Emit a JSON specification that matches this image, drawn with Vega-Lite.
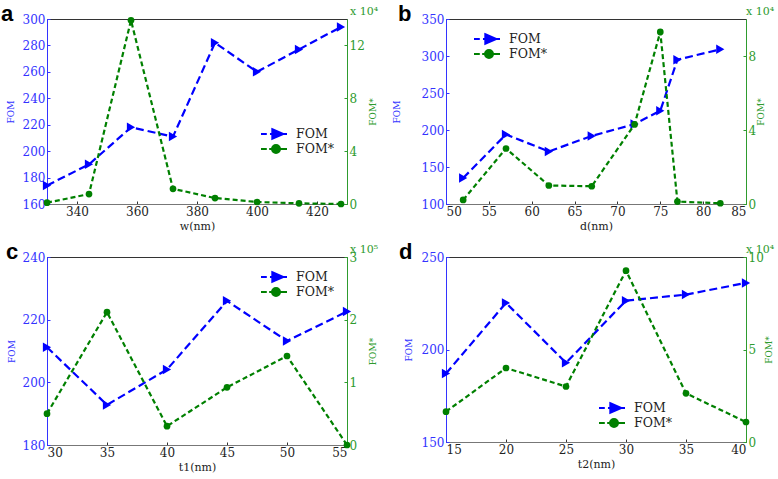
{
  "$schema": "https://vega.github.io/schema/vega-lite/v6.json",
  "padding": {"left": 0, "top": 2, "right": 0, "bottom": 0},
  "background": "white",
  "config": {
    "font": "DejaVu Serif",
    "view": {"stroke": "#333333", "strokeWidth": 1},
    "axis": {"grid": false, "labelFont": "DejaVu Serif", "titleFont": "DejaVu Serif", "labelFontSize": 12, "titleFontSize": 11, "titleFontWeight": "normal", "tickSize": -3, "labelPadding": 5, "domainColor": "#777777", "tickColor": "#333333", "labelColor": "#222222", "titleColor": "#222222"},
    "legend": {"padding": 0, "labelFont": "DejaVu Serif", "labelFontSize": 12.5, "labelColor": "#222222", "symbolSize": 676, "symbolStrokeWidth": 2, "labelOffset": 8, "rowPadding": 1, "clipHeight": 14, "symbolOpacity": 1},
    "title": {"font": "Liberation Sans", "fontSize": 22, "fontWeight": "bold", "color": "black", "anchor": "start", "frame": "group", "baseline": "alphabetic", "offset": -20}
  },
  "datasets": {
    "main": [
      {"panel": "a", "x": 330, "fom": 174, "foms": 0.1},
      {"panel": "a", "x": 344, "fom": 190, "foms": 0.75},
      {"panel": "a", "x": 358, "fom": 218, "foms": 13.9},
      {"panel": "a", "x": 372, "fom": 211, "foms": 1.15},
      {"panel": "a", "x": 386, "fom": 282, "foms": 0.45},
      {"panel": "a", "x": 400, "fom": 260, "foms": 0.15},
      {"panel": "a", "x": 414, "fom": 277, "foms": 0.05},
      {"panel": "a", "x": 428, "fom": 294, "foms": 0.0},
      {"panel": "b", "x": 52, "fom": 135, "foms": 0.22},
      {"panel": "b", "x": 57, "fom": 194, "foms": 3.0},
      {"panel": "b", "x": 62, "fom": 171, "foms": 1.0},
      {"panel": "b", "x": 67, "fom": 192, "foms": 0.96},
      {"panel": "b", "x": 72, "fom": 208, "foms": 4.3},
      {"panel": "b", "x": 75, "fom": 226, "foms": 9.3},
      {"panel": "b", "x": 77, "fom": 295, "foms": 0.13},
      {"panel": "b", "x": 82, "fom": 309, "foms": 0.04},
      {"panel": "c", "x": 30, "fom": 211.2, "foms": 0.5},
      {"panel": "c", "x": 35, "fom": 192.8, "foms": 2.12},
      {"panel": "c", "x": 40, "fom": 204.1, "foms": 0.3},
      {"panel": "c", "x": 45, "fom": 226, "foms": 0.92},
      {"panel": "c", "x": 50, "fom": 213.2, "foms": 1.42},
      {"panel": "c", "x": 55, "fom": 222.6, "foms": 0.0},
      {"panel": "d", "x": 15, "fom": 187, "foms": 1.64},
      {"panel": "d", "x": 20, "fom": 225.2, "foms": 4.0},
      {"panel": "d", "x": 25, "fom": 192.8, "foms": 3.0},
      {"panel": "d", "x": 30, "fom": 226.4, "foms": 9.26},
      {"panel": "d", "x": 35, "fom": 229.7, "foms": 2.63},
      {"panel": "d", "x": 40, "fom": 236, "foms": 1.08}
    ]
  },
  "columns": 2,
  "spacing": {"column": 12, "row": 8},
  "resolve": {
    "scale": {"color": "independent", "stroke": "independent", "shape": "independent"},
    "legend": {"color": "independent", "stroke": "independent", "shape": "independent"}
  },
  "concat": [
    {
      "width": 300, "height": 185,
      "title": {"text": "a", "dx": -46},
      "data": {"name": "main"},
      "transform": [{"filter": "datum.panel == 'a'"}],
      "layer": [
        {
          "mark": {"type": "line", "color": "#0000ff", "strokeWidth": 2.2, "strokeDash": [8, 4], "point": {"shape": "triangle-right", "filled": true, "size": 90, "color": "#0000ff"}},
          "encoding": {
            "x": {"field": "x", "type": "quantitative", "scale": {"domain": [330, 430], "nice": false, "zero": false}, "axis": {"title": "w(nm)", "values": [340, 360, 380, 400, 420], "titlePadding": 3}},
            "y": {"field": "fom", "type": "quantitative", "scale": {"domain": [160, 300], "nice": false, "zero": false}, "axis": {"title": "FOM", "orient": "left", "values": [160, 180, 200, 220, 240, 260, 280, 300], "labelColor": "#3333ff", "domainColor": "#3333ff", "tickColor": "#3333ff", "titleColor": "#3333ff", "titleFontSize": 9, "titlePadding": 7}}
          }
        },
        {
          "layer": [
            {
              "mark": {"type": "line", "color": "#008000", "strokeWidth": 2.2, "strokeDash": [5, 3], "point": {"shape": "circle", "filled": true, "size": 45, "color": "#008000"}},
              "encoding": {
                "x": {"field": "x", "type": "quantitative"},
                "y": {"field": "foms", "type": "quantitative", "scale": {"domain": [0, 14], "nice": false}, "axis": {"title": "FOM*", "orient": "right", "format": "d", "titleAngle": 270, "titleBaseline": "top", "values": [0, 2, 4, 6, 8, 10, 12, 14], "labelColor": "#2e9b2e", "domainColor": "#2e9b2e", "tickColor": "#2e9b2e", "titleColor": "#2e9b2e", "titleFontSize": 9, "titlePadding": 4}}
              }
            },
            {
              "data": {"values": [{"label": "x 10⁴"}]},
              "mark": {"type": "text", "align": "left", "baseline": "bottom", "dx": 3, "dy": -2, "fontSize": 11, "color": "#2e9b2e", "font": "DejaVu Serif"},
              "encoding": {"text": {"field": "label"}, "x": {"datum": 430, "type": "quantitative"}, "y": {"datum": 14, "type": "quantitative"}}
            }
          ]
        },
        {
          "transform": [{"filter": "false"}],
          "mark": {"type": "point", "filled": true},
          "encoding": {
            "color": {"field": "series", "type": "nominal", "scale": {"domain": ["FOM", "FOM*"], "range": ["#0000ff", "#008000"]}, "legend": {"orient": "none", "legendX": 213, "legendY": 108, "title": null}},
            "stroke": {"field": "series", "type": "nominal", "scale": {"domain": ["FOM", "FOM*"], "range": ["#0000ff", "#008000"]}, "legend": {"orient": "none", "legendX": 213, "legendY": 108, "title": null}},
            "shape": {"field": "series", "type": "nominal", "scale": {"domain": ["FOM", "FOM*"], "range": ["M-1,0H-0.554M-0.31,0H-0.13M-0.13,-0.37L0.715,0L-0.13,0.37ZM0.715,0H1", "M-1,0H-0.554M-0.37,0H-0.154M0.462,0A0.308,0.308 0 1,1 -0.154,0A0.308,0.308 0 1,1 0.462,0ZM0.462,0H1"]}, "legend": {"orient": "none", "legendX": 213, "legendY": 108, "title": null}}
          }
        }
      ],
      "resolve": {"scale": {"y": "independent"}}
    },
    {
      "width": 300, "height": 185,
      "title": {"text": "b", "dx": -48},
      "data": {"name": "main"},
      "transform": [{"filter": "datum.panel == 'b'"}],
      "layer": [
        {
          "mark": {"type": "line", "color": "#0000ff", "strokeWidth": 2.2, "strokeDash": [8, 4], "point": {"shape": "triangle-right", "filled": true, "size": 90, "color": "#0000ff"}},
          "encoding": {
            "x": {"field": "x", "type": "quantitative", "scale": {"domain": [50, 85], "nice": false, "zero": false}, "axis": {"title": "d(nm)", "values": [50, 55, 60, 65, 70, 75, 80, 85], "titlePadding": 3}},
            "y": {"field": "fom", "type": "quantitative", "scale": {"domain": [100, 350], "nice": false, "zero": false}, "axis": {"title": "FOM", "orient": "left", "values": [100, 150, 200, 250, 300, 350], "labelColor": "#3333ff", "domainColor": "#3333ff", "tickColor": "#3333ff", "titleColor": "#3333ff", "titleFontSize": 9, "titlePadding": 20}}
          }
        },
        {
          "layer": [
            {
              "mark": {"type": "line", "color": "#008000", "strokeWidth": 2.2, "strokeDash": [5, 3], "point": {"shape": "circle", "filled": true, "size": 45, "color": "#008000"}},
              "encoding": {
                "x": {"field": "x", "type": "quantitative"},
                "y": {"field": "foms", "type": "quantitative", "scale": {"domain": [0, 10], "nice": false}, "axis": {"title": "FOM*", "orient": "right", "format": "d", "titleAngle": 270, "titleBaseline": "top", "values": [0, 2, 4, 6, 8, 10], "labelColor": "#2e9b2e", "domainColor": "#2e9b2e", "tickColor": "#2e9b2e", "titleColor": "#2e9b2e", "titleFontSize": 9, "titlePadding": 1}}
              }
            },
            {
              "data": {"values": [{"label": "x 10⁴"}]},
              "mark": {"type": "text", "align": "left", "baseline": "bottom", "dx": 0, "dy": -2, "fontSize": 11, "color": "#2e9b2e", "font": "DejaVu Serif"},
              "encoding": {"text": {"field": "label"}, "x": {"datum": 85, "type": "quantitative"}, "y": {"datum": 10, "type": "quantitative"}}
            }
          ]
        },
        {
          "transform": [{"filter": "false"}],
          "mark": {"type": "point", "filled": true},
          "encoding": {
            "color": {"field": "series", "type": "nominal", "scale": {"domain": ["FOM", "FOM*"], "range": ["#0000ff", "#008000"]}, "legend": {"orient": "none", "legendX": 27, "legendY": 13, "title": null}},
            "stroke": {"field": "series", "type": "nominal", "scale": {"domain": ["FOM", "FOM*"], "range": ["#0000ff", "#008000"]}, "legend": {"orient": "none", "legendX": 27, "legendY": 13, "title": null}},
            "shape": {"field": "series", "type": "nominal", "scale": {"domain": ["FOM", "FOM*"], "range": ["M-1,0H-0.554M-0.31,0H-0.13M-0.13,-0.37L0.715,0L-0.13,0.37ZM0.715,0H1", "M-1,0H-0.554M-0.37,0H-0.154M0.462,0A0.308,0.308 0 1,1 -0.154,0A0.308,0.308 0 1,1 0.462,0ZM0.462,0H1"]}, "legend": {"orient": "none", "legendX": 27, "legendY": 13, "title": null}}
          }
        }
      ],
      "resolve": {"scale": {"y": "independent"}}
    },
    {
      "width": 300, "height": 188,
      "title": {"text": "c", "dx": -41},
      "data": {"name": "main"},
      "transform": [{"filter": "datum.panel == 'c'"}],
      "layer": [
        {
          "mark": {"type": "line", "color": "#0000ff", "strokeWidth": 2.2, "strokeDash": [8, 4], "point": {"shape": "triangle-right", "filled": true, "size": 90, "color": "#0000ff"}},
          "encoding": {
            "x": {"field": "x", "type": "quantitative", "scale": {"domain": [30, 55], "nice": false, "zero": false}, "axis": {"title": "t1(nm)", "values": [30, 35, 40, 45, 50, 55], "titlePadding": 3}},
            "y": {"field": "fom", "type": "quantitative", "scale": {"domain": [180, 240], "nice": false, "zero": false}, "axis": {"title": "FOM", "orient": "left", "values": [180, 200, 220, 240], "labelColor": "#3333ff", "domainColor": "#3333ff", "tickColor": "#3333ff", "titleColor": "#3333ff", "titleFontSize": 9, "titlePadding": 6}}
          }
        },
        {
          "layer": [
            {
              "mark": {"type": "line", "color": "#008000", "strokeWidth": 2.2, "strokeDash": [5, 3], "point": {"shape": "circle", "filled": true, "size": 45, "color": "#008000"}},
              "encoding": {
                "x": {"field": "x", "type": "quantitative"},
                "y": {"field": "foms", "type": "quantitative", "scale": {"domain": [0, 3], "nice": false}, "axis": {"title": "FOM*", "orient": "right", "format": "d", "titleAngle": 270, "titleBaseline": "top", "values": [0, 1, 2, 3], "labelColor": "#2e9b2e", "domainColor": "#2e9b2e", "tickColor": "#2e9b2e", "titleColor": "#2e9b2e", "titleFontSize": 9, "titlePadding": 12}}
              }
            },
            {
              "data": {"values": [{"label": "x 10⁵"}]},
              "mark": {"type": "text", "align": "left", "baseline": "bottom", "dx": 3, "dy": -2, "fontSize": 11, "color": "#2e9b2e", "font": "DejaVu Serif"},
              "encoding": {"text": {"field": "label"}, "x": {"datum": 55, "type": "quantitative"}, "y": {"datum": 3, "type": "quantitative"}}
            }
          ]
        },
        {
          "transform": [{"filter": "false"}],
          "mark": {"type": "point", "filled": true},
          "encoding": {
            "color": {"field": "series", "type": "nominal", "scale": {"domain": ["FOM", "FOM*"], "range": ["#0000ff", "#008000"]}, "legend": {"orient": "none", "legendX": 213, "legendY": 13, "title": null}},
            "stroke": {"field": "series", "type": "nominal", "scale": {"domain": ["FOM", "FOM*"], "range": ["#0000ff", "#008000"]}, "legend": {"orient": "none", "legendX": 213, "legendY": 13, "title": null}},
            "shape": {"field": "series", "type": "nominal", "scale": {"domain": ["FOM", "FOM*"], "range": ["M-1,0H-0.554M-0.31,0H-0.13M-0.13,-0.37L0.715,0L-0.13,0.37ZM0.715,0H1", "M-1,0H-0.554M-0.37,0H-0.154M0.462,0A0.308,0.308 0 1,1 -0.154,0A0.308,0.308 0 1,1 0.462,0ZM0.462,0H1"]}, "legend": {"orient": "none", "legendX": 213, "legendY": 13, "title": null}}
          }
        }
      ],
      "resolve": {"scale": {"y": "independent"}}
    },
    {
      "width": 300, "height": 185,
      "title": {"text": "d", "dx": -47},
      "data": {"name": "main"},
      "transform": [{"filter": "datum.panel == 'd'"}],
      "layer": [
        {
          "mark": {"type": "line", "color": "#0000ff", "strokeWidth": 2.2, "strokeDash": [8, 4], "point": {"shape": "triangle-right", "filled": true, "size": 90, "color": "#0000ff"}},
          "encoding": {
            "x": {"field": "x", "type": "quantitative", "scale": {"domain": [15, 40], "nice": false, "zero": false}, "axis": {"title": "t2(nm)", "values": [15, 20, 25, 30, 35, 40], "titlePadding": 3}},
            "y": {"field": "fom", "type": "quantitative", "scale": {"domain": [150, 250], "nice": false, "zero": false}, "axis": {"title": "FOM", "orient": "left", "values": [150, 200, 250], "labelColor": "#3333ff", "domainColor": "#3333ff", "tickColor": "#3333ff", "titleColor": "#3333ff", "titleFontSize": 9, "titlePadding": 8}}
          }
        },
        {
          "layer": [
            {
              "mark": {"type": "line", "color": "#008000", "strokeWidth": 2.2, "strokeDash": [5, 3], "point": {"shape": "circle", "filled": true, "size": 45, "color": "#008000"}},
              "encoding": {
                "x": {"field": "x", "type": "quantitative"},
                "y": {"field": "foms", "type": "quantitative", "scale": {"domain": [0, 10], "nice": false}, "axis": {"title": "FOM*", "orient": "right", "format": "d", "titleAngle": 270, "titleBaseline": "top", "values": [0, 5, 10], "labelColor": "#2e9b2e", "domainColor": "#2e9b2e", "tickColor": "#2e9b2e", "titleColor": "#2e9b2e", "titleFontSize": 9, "titlePadding": 1}}
              }
            },
            {
              "data": {"values": [{"label": "x 10⁴"}]},
              "mark": {"type": "text", "align": "left", "baseline": "bottom", "dx": 0, "dy": -2, "fontSize": 11, "color": "#2e9b2e", "font": "DejaVu Serif"},
              "encoding": {"text": {"field": "label"}, "x": {"datum": 40, "type": "quantitative"}, "y": {"datum": 10, "type": "quantitative"}}
            }
          ]
        },
        {
          "transform": [{"filter": "false"}],
          "mark": {"type": "point", "filled": true},
          "encoding": {
            "color": {"field": "series", "type": "nominal", "scale": {"domain": ["FOM", "FOM*"], "range": ["#0000ff", "#008000"]}, "legend": {"orient": "none", "legendX": 152, "legendY": 144, "title": null}},
            "stroke": {"field": "series", "type": "nominal", "scale": {"domain": ["FOM", "FOM*"], "range": ["#0000ff", "#008000"]}, "legend": {"orient": "none", "legendX": 152, "legendY": 144, "title": null}},
            "shape": {"field": "series", "type": "nominal", "scale": {"domain": ["FOM", "FOM*"], "range": ["M-1,0H-0.554M-0.31,0H-0.13M-0.13,-0.37L0.715,0L-0.13,0.37ZM0.715,0H1", "M-1,0H-0.554M-0.37,0H-0.154M0.462,0A0.308,0.308 0 1,1 -0.154,0A0.308,0.308 0 1,1 0.462,0ZM0.462,0H1"]}, "legend": {"orient": "none", "legendX": 152, "legendY": 144, "title": null}}
          }
        }
      ],
      "resolve": {"scale": {"y": "independent"}}
    }
  ]
}
